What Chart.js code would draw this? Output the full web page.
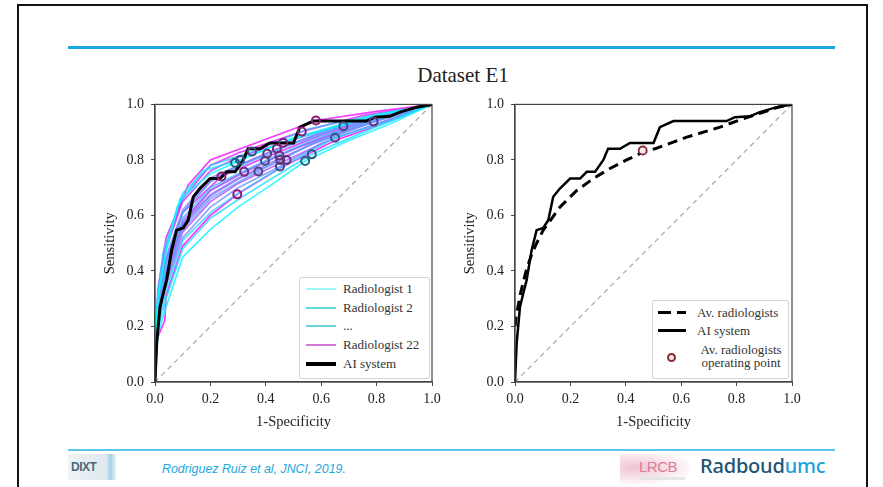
<!DOCTYPE html>
<html>
<head>
<meta charset="utf-8">
<script src="https://cdn.jsdelivr.net/npm/chart.js@4.4.1/dist/chart.umd.min.js"></script>
<style>
  body { margin: 0; width: 883px; height: 487px; overflow: hidden; background: #fff; position: relative; font-family: "Liberation Serif", serif; }
  #frame { position: absolute; left: 17px; top: 4px; width: 851px; height: 600px; box-sizing: border-box; border: 2px solid #111; }
  .rule { position: absolute; left: 68px; width: 767px; background: #19a8dc; }
  #title { position: absolute; left: 363px; width: 200px; top: 63px; text-align: center; font-size: 21px; color: #222; }
  canvas { position: absolute; }
  .legend { position: absolute; background: #fff; border: 1px solid #d4d4d4; border-radius: 2px; font-size: 13px; color: #333; }
  .legend .swatch { position: absolute; }
  .legend .txt { position: absolute; line-height: 13px; white-space: nowrap; }
  #cite { position: absolute; left: 162px; top: 462px; font-family: "Liberation Sans", sans-serif; font-style: italic; font-size: 12.4px; color: #1ea7dc; }
  #logo1 { position: absolute; left: 68px; top: 454px; width: 48px; height: 26px; background: linear-gradient(to right, #eef3f6, #dfe9ef 80%, #9fd3ea 88%, #eef3f6); font-family: "Liberation Sans", sans-serif; font-weight: bold; font-size: 12px; color: #4d6878; line-height: 26px; letter-spacing: -0.5px; padding-left: 3px; box-sizing: border-box; }
  #lrcb { position: absolute; left: 620px; top: 454px; width: 70px; height: 30px; background: radial-gradient(ellipse at 22% 45%, #f0c4d0 0, #f8e4ea 45%, #fff 80%); font-family: "Liberation Sans", sans-serif; font-size: 15px; color: #dc7c96; }
  #lrcb span { position: absolute; left: 19px; top: 4px; letter-spacing: -0.5px; }
  #lrcb i { position: absolute; left: 20px; top: 23px; width: 45px; height: 3px; background: #e6e6e6; }
  #radboud { position: absolute; left: 700px; top: 452px; font-family: "Noto Sans", sans-serif; font-size: 20px; font-weight: 500; letter-spacing: -0.2px; }
</style>
</head>
<body>
<div id="frame"></div>
<div class="rule" style="top:46px;height:3px;"></div>
<div id="title">Dataset E1</div>

<canvas id="leftChart" width="349" height="344" style="left:97px;top:89px;"></canvas>
<canvas id="rightChart" width="349" height="344" style="left:457px;top:89px;"></canvas>

<div class="legend" style="left:299px;top:277px;width:129px;height:100px;">
  <div class="swatch" style="left:6px;top:10px;width:30px;height:2px;background:#9ff4f4;"></div>
  <div class="txt" style="left:43px;top:4px;">Radiologist 1</div>
  <div class="swatch" style="left:6px;top:29px;width:30px;height:2px;background:#5fdcdc;"></div>
  <div class="txt" style="left:43px;top:23px;">Radiologist 2</div>
  <div class="swatch" style="left:6px;top:47px;width:30px;height:2px;background:#6cd0d4;"></div>
  <div class="txt" style="left:43px;top:41px;">...</div>
  <div class="swatch" style="left:6px;top:66px;width:30px;height:2px;background:#d27ad8;"></div>
  <div class="txt" style="left:43px;top:60px;">Radiologist 22</div>
  <div class="swatch" style="left:6px;top:84px;width:30px;height:4px;background:#000;"></div>
  <div class="txt" style="left:43px;top:79px;">AI system</div>
</div>

<div class="legend" style="left:652px;top:300px;width:135px;height:77px;">
  <div class="swatch" style="left:5px;top:10px;width:28px;height:3px;background:linear-gradient(to right,#000 0 13px,transparent 13px 19px,#000 19px 28px);"></div>
  <div class="txt" style="left:44px;top:5px;">Av. radiologists</div>
  <div class="swatch" style="left:5px;top:28px;width:28px;height:3px;background:#000;"></div>
  <div class="txt" style="left:44px;top:23px;">AI system</div>
  <div class="swatch" style="left:14px;top:52px;width:5px;height:5px;border:2px solid #8b2a38;border-radius:50%;background:#f6eaec;"></div>
  <div class="txt" style="left:44px;top:42px;text-align:center;width:88px;">Av. radiologists<br>operating point</div>
</div>

<div class="rule" style="top:449px;height:1.5px;background:#5cc6ea;"></div>
<div id="logo1">DIXT</div>
<div id="cite">Rodriguez Ruiz et al, JNCI, 2019.</div>
<div id="lrcb"><span>LRCB</span><i></i></div>
<div id="radboud"><span style="color:#1d5474;">Radboud</span><span style="color:#22a0d8;">umc</span></div>

<script>
// axes ticks
const tickValues = [0, 0.2, 0.4, 0.6, 0.8, 1.0];
const chanceFpr = [0, 1];
const chanceTpr = [0, 1];

// AI system ROC (same curve on both panels)
const aiFpr = [0, 0.006, 0.018, 0.03, 0.042, 0.06, 0.078, 0.102, 0.12, 0.138, 0.162, 0.199, 0.235, 0.259, 0.289, 0.319, 0.336, 0.379, 0.415, 0.5, 0.523, 0.572, 0.764, 0.794, 0.848, 0.884, 0.945, 1.0];
const aiTpr = [0, 0.14, 0.27, 0.32, 0.367, 0.475, 0.547, 0.555, 0.583, 0.667, 0.697, 0.733, 0.733, 0.757, 0.757, 0.80, 0.84, 0.84, 0.861, 0.861, 0.918, 0.94, 0.94, 0.954, 0.957, 0.972, 0.99, 1.0];

// average radiologist ROC (right panel)
const avgFpr = [0, 0.005, 0.02, 0.04, 0.06, 0.078, 0.102, 0.13, 0.162, 0.223, 0.283, 0.343, 0.403, 0.463, 0.505, 0.62, 0.74, 0.80, 0.884, 0.95, 1.0];
const avgTpr = [0.2, 0.24, 0.32, 0.40, 0.46, 0.50, 0.547, 0.585, 0.63, 0.69, 0.733, 0.769, 0.80, 0.828, 0.84, 0.882, 0.918, 0.94, 0.968, 0.99, 1.0];
const avgOpFpr = [0.461];
const avgOpTpr = [0.834];

// operating points of radiologist 1..22
const opFpr = [0.289, 0.542, 0.307, 0.566, 0.65, 0.35, 0.397, 0.68, 0.373, 0.451, 0.405, 0.452, 0.789, 0.449, 0.322, 0.475, 0.44, 0.463, 0.24, 0.53, 0.581, 0.297];
const opTpr = [0.79, 0.796, 0.80, 0.82, 0.88, 0.83, 0.797, 0.921, 0.758, 0.776, 0.822, 0.80, 0.938, 0.816, 0.757, 0.80, 0.84, 0.862, 0.74, 0.902, 0.942, 0.676];

// radiologist ROC curves, [fpr, tpr] pairs, radiologist 1..22
const radiologistCurves = [
  [[0,0],[0.005,0.22],[0.01,0.30],[0.04,0.47],[0.09,0.66],[0.2,0.75],[0.289,0.79],[0.45,0.86],[0.62,0.91],[0.8,0.96],[1,1]],
  [[0,0],[0.01,0.17],[0.04,0.27],[0.1,0.45],[0.2,0.55],[0.3,0.63],[0.42,0.71],[0.542,0.796],[0.7,0.87],[0.85,0.93],[1,1]],
  [[0,0],[0.01,0.31],[0.04,0.48],[0.08,0.63],[0.17,0.76],[0.307,0.80],[0.5,0.88],[0.75,0.95],[1,1]],
  [[0,0],[0.01,0.19],[0.04,0.30],[0.1,0.48],[0.2,0.59],[0.32,0.67],[0.45,0.75],[0.566,0.82],[0.8,0.92],[1,1]],
  [[0,0],[0.01,0.20],[0.04,0.33],[0.1,0.51],[0.2,0.61],[0.3,0.68],[0.45,0.77],[0.65,0.88],[0.85,0.94],[1,1]],
  [[0,0],[0.01,0.32],[0.03,0.47],[0.1,0.68],[0.2,0.78],[0.35,0.83],[0.55,0.91],[0.8,0.965],[1,1]],
  [[0,0],[0.01,0.26],[0.04,0.41],[0.1,0.59],[0.2,0.70],[0.3,0.75],[0.397,0.797],[0.6,0.885],[0.8,0.945],[1,1]],
  [[0,0],[0.01,0.28],[0.04,0.43],[0.1,0.61],[0.2,0.72],[0.3,0.775],[0.45,0.84],[0.68,0.921],[0.85,0.96],[1,1]],
  [[0,0],[0.01,0.23],[0.04,0.37],[0.1,0.55],[0.2,0.66],[0.3,0.72],[0.373,0.758],[0.55,0.85],[0.8,0.94],[1,1]],
  [[0,0],[0.01,0.22],[0.04,0.35],[0.1,0.52],[0.2,0.63],[0.3,0.70],[0.451,0.776],[0.6,0.86],[0.8,0.93],[1,1]],
  [[0,0],[0.01,0.29],[0.04,0.45],[0.1,0.62],[0.2,0.735],[0.3,0.78],[0.405,0.822],[0.6,0.90],[0.8,0.955],[1,1]],
  [[0,0],[0.01,0.24],[0.04,0.38],[0.1,0.56],[0.2,0.67],[0.3,0.73],[0.452,0.80],[0.6,0.875],[0.8,0.94],[1,1]],
  [[0,0],[0.01,0.25],[0.04,0.39],[0.1,0.57],[0.2,0.675],[0.3,0.735],[0.45,0.805],[0.6,0.87],[0.789,0.938],[1,1]],
  [[0,0],[0.01,0.25],[0.04,0.40],[0.1,0.57],[0.2,0.69],[0.3,0.745],[0.449,0.816],[0.65,0.90],[0.85,0.96],[1,1]],
  [[0,0],[0.01,0.26],[0.04,0.40],[0.1,0.58],[0.2,0.69],[0.322,0.757],[0.5,0.84],[0.75,0.93],[1,1]],
  [[0,0],[0.01,0.22],[0.04,0.36],[0.1,0.54],[0.2,0.65],[0.3,0.715],[0.475,0.80],[0.65,0.88],[0.85,0.945],[1,1]],
  [[0,0],[0.01,0.28],[0.04,0.44],[0.1,0.61],[0.2,0.725],[0.3,0.78],[0.44,0.84],[0.6,0.895],[0.8,0.955],[1,1]],
  [[0,0],[0.01,0.30],[0.04,0.48],[0.1,0.65],[0.2,0.76],[0.3,0.81],[0.463,0.862],[0.65,0.92],[0.85,0.97],[1,1]],
  [[0,0],[0.01,0.27],[0.04,0.43],[0.1,0.61],[0.24,0.74],[0.4,0.81],[0.6,0.89],[0.8,0.95],[1,1]],
  [[0,0],[0.01,0.31],[0.04,0.49],[0.1,0.66],[0.2,0.78],[0.3,0.825],[0.53,0.902],[0.75,0.96],[1,1]],
  [[0,0],[0.01,0.33],[0.04,0.52],[0.12,0.71],[0.2,0.80],[0.581,0.942],[0.8,0.975],[1,1]],
  [[0,0],[0.005,0.15],[0.035,0.22],[0.04,0.31],[0.1,0.49],[0.2,0.60],[0.297,0.676],[0.45,0.77],[0.65,0.87],[0.85,0.94],[1,1]]
];

const serif = "Liberation Serif";

function toPoints(xs, ys) {
  return xs.map((x, i) => ({ x: x, y: ys[i] }));
}

// matplotlib "cool" colormap, cyan -> magenta
function cool(t, a) {
  return `rgba(${Math.round(255 * t)},${Math.round(255 * (1 - t))},255,${a})`;
}
function coolDark(t) {
  return `rgb(${Math.round(30 + 120 * t)},${Math.round(100 - 80 * t)},${Math.round(130 - 10 * t)})`;
}

// draw top and right spines too
const frameBox = {
  id: "frameBox",
  afterDatasetsDraw(c) {
    const a = c.chartArea, ctx = c.ctx;
    ctx.save();
    ctx.strokeStyle = "#444";
    ctx.lineWidth = 1.2;
    ctx.strokeRect(a.left, a.top, a.right - a.left, a.bottom - a.top);
    ctx.restore();
  }
};

function axis(title, isX) {
  return {
    type: "linear",
    min: 0,
    max: 1,
    afterBuildTicks: s => { s.ticks = tickValues.map(v => ({ value: v })); },
    afterFit: s => { if (isX) s.height = 51; else s.width = 58; },
    grid: { drawOnChartArea: false, drawTicks: true, tickLength: 4, color: "#444", lineWidth: 1 },
    border: { color: "#444", width: 1.2 },
    ticks: {
      font: { family: serif, size: 14 },
      color: "#222",
      padding: isX ? 5 : 7,
      maxRotation: 0,
      autoSkip: false,
      callback: v => Number(v).toFixed(1)
    },
    title: {
      display: true,
      text: title,
      font: { family: serif, size: 14.5 },
      color: "#222",
      padding: isX ? { top: 0, bottom: 2 } : { top: 4, bottom: 0 }
    }
  };
}

function baseOptions() {
  return {
    responsive: false,
    animation: false,
    events: [],
    layout: { padding: { top: 15, right: 14, left: 0, bottom: 0 } },
    plugins: { legend: { display: false }, tooltip: { enabled: false } },
    scales: { x: axis("1-Specificity", true), y: axis("Sensitivity", false) }
  };
}

const chanceSet = {
  data: toPoints(chanceFpr, chanceTpr),
  showLine: true,
  borderColor: "#a8a8a8",
  borderWidth: 1.2,
  borderDash: [5, 4],
  pointRadius: 0,
  order: 40
};

// left panel: individual radiologists + AI
const leftSets = [chanceSet];
radiologistCurves.forEach((curve, i) => {
  const t = i / (radiologistCurves.length - 1);
  leftSets.push({
    data: curve.map(p => ({ x: p[0], y: p[1] })),
    showLine: true,
    borderColor: cool(t, 0.8),
    borderWidth: 1.7,
    pointRadius: 0,
    order: 30
  });
});
leftSets.push({
  data: toPoints(aiFpr, aiTpr),
  showLine: true,
  borderColor: "#000",
  borderWidth: 3,
  pointRadius: 0,
  order: 20
});
leftSets.push({
  data: toPoints(opFpr, opTpr),
  showLine: false,
  pointRadius: 4,
  pointBorderWidth: 2,
  pointBackgroundColor: "rgba(0,0,0,0)",
  pointBorderColor: opFpr.map((v, i) => coolDark(i / (opFpr.length - 1))),
  order: 10
});

new Chart(document.getElementById("leftChart"), {
  type: "scatter",
  data: { datasets: leftSets },
  options: baseOptions(),
  plugins: [frameBox]
});

// right panel: average radiologist vs AI
new Chart(document.getElementById("rightChart"), {
  type: "scatter",
  data: {
    datasets: [
      chanceSet,
      {
        data: toPoints(avgFpr, avgTpr),
        showLine: true,
        borderColor: "#000",
        borderWidth: 3,
        borderDash: [10, 6],
        pointRadius: 0,
        order: 25
      },
      {
        data: toPoints(aiFpr, aiTpr),
        showLine: true,
        borderColor: "#000",
        borderWidth: 2.5,
        pointRadius: 0,
        order: 20
      },
      {
        data: toPoints(avgOpFpr, avgOpTpr),
        showLine: false,
        pointRadius: 4,
        pointBorderWidth: 1.8,
        pointBackgroundColor: "#f6eaec",
        pointBorderColor: "#8b2a38",
        order: 10
      }
    ]
  },
  options: baseOptions(),
  plugins: [frameBox]
});
</script>
</body>
</html>
